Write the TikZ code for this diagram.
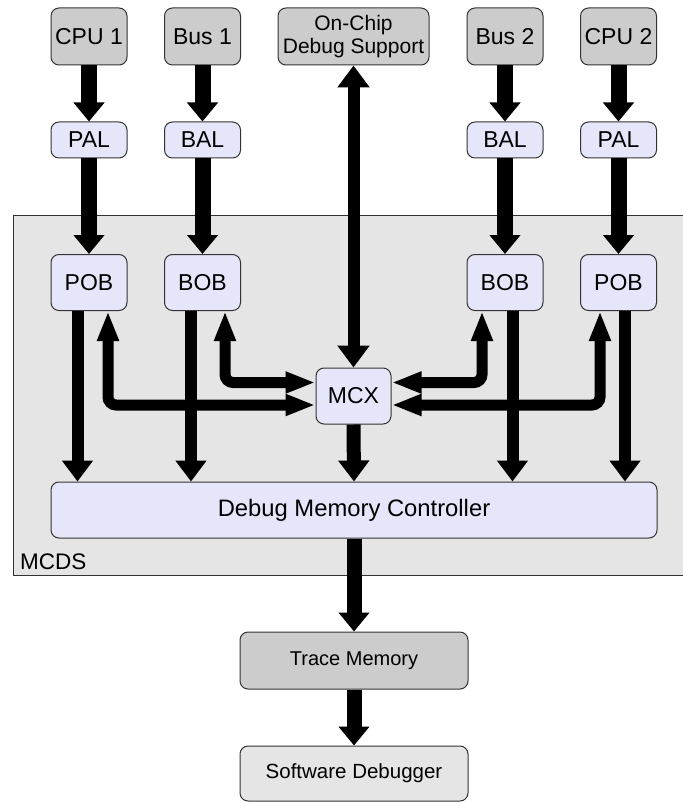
\documentclass[tikz,border=0pt]{standalone}
\usepackage{fontspec}
\setmainfont{Liberation Sans}
\usetikzlibrary{arrows.meta,calc,positioning}
\definecolor{hostgray}{RGB}{204,204,204}
\definecolor{unitblue}{RGB}{230,230,250}
\definecolor{mcdsgray}{RGB}{229,229,229}
\tikzset{
blk/.style={draw=black!80,line width=1pt,rounded corners=8pt,inner sep=0pt,align=center,
  minimum width=76pt,minimum height=56pt,font=\fontsize{23}{26}\selectfont},
host/.style={blk,fill=hostgray,minimum height=57pt},
unit/.style={blk,fill=unitblue},
fat/.style={line width=16pt,-{Triangle[width=30pt,length=19pt]}},
feed/.style={line width=12pt,-{Triangle[width=30pt,length=21pt]}},
link/.style={line width=11pt,rounded corners=8pt,
  {Triangle[width=20pt,length=30pt]}-{Triangle[width=20pt,length=30pt]}}
}
\begin{document}
\begin{tikzpicture}[x=1pt,y=-1pt]
\useasboundingbox (0,0) rectangle (682,802);
% ==========================================
\draw [black!80,line width=1pt,fill=mcdsgray] (13,216) rectangle (700,575);
\node [anchor=south west,inner sep=0pt,font=\fontsize{22.5}{24}\selectfont] (mcdslbl) at (20,570) {MCDS};
%
\node [host] (cpuA) at (89,36.5) {CPU 1};
\node [host] (busA) at (202.5,36.5) {Bus 1};
\node [host,minimum width=151pt,font=\fontsize{21}{23}\selectfont] (ocds) at (353.5,36.5) {On-Chip\\Debug Support};
\node [host] (busB) at (505,36.5) {Bus 2};
\node [host] (cpuB) at (618.5,36.5) {CPU 2};
%
\node [unit,minimum height=36pt] (palA) at (89,140) {PAL};
\node [unit,minimum height=36pt] (balA) at (202.5,140) {BAL};
\node [unit,minimum height=36pt] (balB) at (505,140) {BAL};
\node [unit,minimum height=36pt] (palB) at (618.5,140) {PAL};
%
\node [unit] (pobA) at (89,282.5) {POB};
\node [unit] (bobA) at (202.5,282.5) {BOB};
\node [unit] (bobB) at (505,282.5) {BOB};
\node [unit] (pobB) at (618.5,282.5) {POB};
\node [unit,minimum width=75pt] (mcx) at (353.5,396) {MCX};
\node [unit,minimum width=606pt,font=\fontsize{23.8}{26}\selectfont] (dmc) at (354,510) {Debug Memory Controller};
%
\node [host,minimum width=228pt,font=\fontsize{20}{24}\selectfont] (trace) at (354,660.5) {Trace Memory};
\node [blk,fill=mcdsgray,minimum width=228pt,minimum height=55pt,font=\fontsize{20.5}{24}\selectfont] (swdbg) at (354,773.5) {Software Debugger};
% ==========================================
\foreach \a/\b in {cpuA/palA,busA/balA,busB/balB,cpuB/palB,palA/pobA,balA/bobA,balB/bobB,palB/pobB}
  \draw [fat] (\a.south) -- (\b.north);
%
\foreach \n/\dx in {pobA/-11.5,bobA/-11.5,bobB/7.5,pobB/6.5}{
  \coordinate (top) at ([xshift=\dx pt]\n.south);
  \draw [feed] (top) -- (top |- dmc.north);
}
%
\draw [link] ([yshift=-9pt]mcx.west) -| ([xshift=19pt]pobA.south);
\draw [link] ([yshift=13.5pt]mcx.west) -| ([xshift=22.5pt]bobA.south);
\draw [link] ([yshift=13.5pt]mcx.east) -| ([xshift=-23pt]bobB.south);
\draw [link] ([yshift=-9pt]mcx.east) -| ([xshift=-18.5pt]pobB.south);
%
\draw [feed,{Triangle[width=31pt,length=22pt]}-{Triangle[width=31pt,length=22pt]}] (ocds.south) -- (mcx.north);%Arrow.
\draw [feed,line width=14pt] (mcx.south) -- (dmc.north);%Arrow.
\draw [fat,line width=15pt] (dmc.south) -- (trace.north);%Arrow.
\draw [fat,line width=15pt] (trace.south) -- (swdbg.north);%Arrow.
% =============================================
\end{tikzpicture}
\end{document}
